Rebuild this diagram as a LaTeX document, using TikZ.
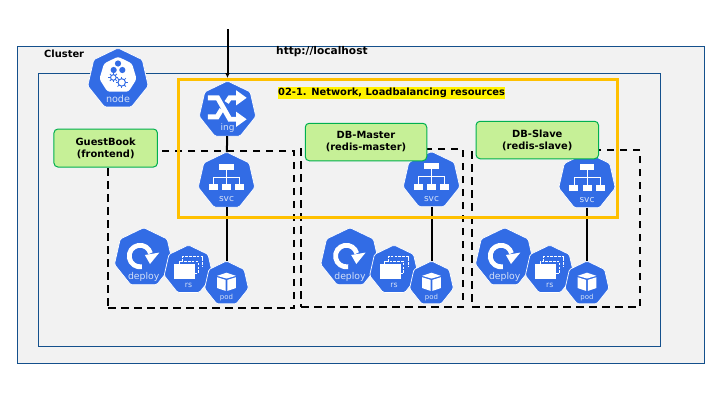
\documentclass[tikz,border=0pt]{standalone}
\usepackage{fontspec}
\usepackage{xcolor}
\usepackage{tikz}
\usetikzlibrary{arrows.meta,positioning,calc,shapes.geometric}
\setmainfont{DejaVu Sans}
\definecolor{bg}{HTML}{F2F2F2}
\definecolor{fr}{HTML}{14508C}
\definecolor{yl}{HTML}{FFC000}
\definecolor{gf}{HTML}{C6F097}
\definecolor{gd}{HTML}{00B050}
\definecolor{kb}{HTML}{326CE5}
\definecolor{kt}{HTML}{D5E1F8}
\tikzset{
  area/.style={draw=fr,line width=1pt,fill=bg,rectangle,inner sep=0pt,outer sep=0pt},
  kube/.style={regular polygon,regular polygon sides=7,fill=kb,draw=white,line width=0.7pt,
    rounded corners=1.5pt,inner sep=0pt,outer sep=0pt},
  kubetext/.style={text=kt,inner sep=0pt},
  group/.style={draw=black,line width=2pt,dash pattern=on 7.5pt off 5.5pt,rectangle,inner sep=0pt,outer sep=0pt},
  tag/.style={draw=gd,line width=1pt,fill=gf,rounded corners=4pt,inner sep=0pt,outer sep=0pt,
    align=center,font=\fontsize{9.9}{12}\selectfont\bfseries},
  wire/.style={draw=black,line width=2pt},
  plain/.style={inner sep=0pt,font=\fontsize{9.9}{12}\selectfont\bfseries},
  netframe/.style={draw=yl,line width=3pt,rectangle,inner sep=0pt,outer sep=0pt},
}
% box from its corners: name, x0, y0, x1, y1, style
\newcommand{\Frame}[6]{\node[#6,minimum width={#4pt-#2pt},minimum height={#5pt-#3pt}] (#1) at ({(#2+#4)/2},{(#3+#5)/2}) {};}
% heptagon with its caption: name, x, y, radius, caption
\newcommand{\Kube}[5]{%
  \pgfmathsetmacro{\kfs}{#4*0.31}
  \node[kube,minimum size={2*#4 pt}] (#1) at (#2,#3) {};
  \node[kubetext,font=\fontsize{\kfs}{\kfs}\selectfont] (#1-text) at (#2,{#3+0.63*#4}) {#5};
}
\newcommand{\KSvc}[4]{\Kube{#1}{#2}{#3}{#4}{svc}
  \begin{scope}[shift={(#1.center)},x=#4pt,y=-#4pt,white]
    \fill (-0.25,-0.59) rectangle (0.25,-0.38);
    \foreach \bx in {-0.45,0,0.45}{\fill ({\bx-0.155},0.11) rectangle ({\bx+0.155},0.32);}
    \draw[line width=0.8pt] (0,-0.38) -- (0,0.11) (-0.45,0.11) -- (-0.45,-0.14) -- (0.45,-0.14) -- (0.45,0.11);
  \end{scope}}
\newcommand{\KIng}[4]{\Kube{#1}{#2}{#3}{#4}{ing}
  \begin{scope}[shift={(#1.center)},x=#4pt,y=-#4pt,white]
    \draw[line width=0.17*#4pt] (-0.68,-0.42) -- (-0.34,-0.42) -- (0.08,0.32) -- (0.38,0.32);
    \draw[line width=0.17*#4pt] (-0.68,0.24) -- (-0.36,0.24) -- (-0.2,-0.02);
    \draw[line width=0.17*#4pt] (-0.03,-0.26) -- (0.08,-0.42) -- (0.38,-0.42);
    \fill (0.3,-0.68) -- (0.66,-0.42) -- (0.3,-0.16) -- cycle;
    \fill (0.3,0.06) -- (0.66,0.32) -- (0.3,0.58) -- cycle;
  \end{scope}}
\newcommand{\KDeploy}[4]{\Kube{#1}{#2}{#3}{#4}{deploy}
  \begin{scope}[shift={(#1.center)},x=#4pt,y=-#4pt,white]
    \draw[line width=0.16*#4pt] (-0.06,0.3) arc[start angle=80,end angle=345,radius=0.36];
    \fill (0.04,-0.09) -- (0.52,-0.17) -- (0.21,0.21) -- cycle;
  \end{scope}}
\newcommand{\KRs}[4]{\Kube{#1}{#2}{#3}{#4}{rs}
  \begin{scope}[shift={(#1.center)},x=#4pt,y=-#4pt,white]
    \draw[line width=1pt,dash pattern=on 2.6pt off 1.2pt] (-0.23,-0.33) -- (-0.23,-0.53) -- (0.57,-0.53) -- (0.57,-0.13);
    \draw[line width=1pt,dash pattern=on 2.6pt off 1.2pt] (-0.38,-0.23) -- (-0.38,-0.33) -- (0.39,-0.33) -- (0.39,0.13) -- (0.26,0.13);
    \fill (-0.58,-0.23) rectangle (0.26,0.36);
  \end{scope}}
\newcommand{\KPod}[4]{\Kube{#1}{#2}{#3}{#4}{pod}
  \begin{scope}[shift={(#1.center)},x=#4pt,y=-#4pt,white]
    \fill (0,-0.48) -- (0.42,-0.34) -- (0,-0.22) -- (-0.42,-0.34) -- cycle;
    \fill (-0.42,-0.28) -- (-0.04,-0.16) -- (-0.04,0.33) -- (-0.42,0.2) -- cycle;
    \fill (0.42,-0.28) -- (0.04,-0.16) -- (0.04,0.33) -- (0.42,0.2) -- cycle;
  \end{scope}}
\newcommand{\KNode}[4]{\Kube{#1}{#2}{#3}{#4}{node}
  \begin{scope}[shift={(#1.center)},x=#4pt,y=-#4pt]
    \fill[white,rounded corners=2.5pt] (0,-0.72) -- (0.45,-0.5) -- (0.6,0) -- (0.34,0.41) -- (-0.34,0.41) -- (-0.6,0) -- (-0.45,-0.5) -- cycle;
    \foreach \cx/\cy in {0/-0.5,-0.14/-0.29,0.14/-0.29}{\fill[kb] (\cx,\cy) circle (0.1);}
    \foreach \cx/\cy/\cr in {-0.15/-0.05/0.09,0.12/0.11/0.12}{
      \draw[kb,line width=1pt] (\cx,\cy) circle (\cr);
      \foreach \ca in {0,45,...,315}{\draw[kb,line width=0.8pt] ($(\cx,\cy)+(\ca:\cr)$) -- ($(\cx,\cy)+(\ca:\cr+0.07)$);}
    }
  \end{scope}}
\begin{document}
\begin{tikzpicture}[x=1pt,y=-1pt]
  \useasboundingbox (0,0) rectangle (720,405);
  \Frame{cluster}{17.5}{46.5}{704.5}{363}{area}
  \Frame{inner}{38.5}{73.5}{660.5}{346}{area}
  \node[plain,anchor=west] (clusterlabel) at (44,54) {Cluster};
  \node[plain,anchor=west,font=\fontsize{10.6}{12}\selectfont\bfseries] (urllabel) at (276,52) {http://localhost};
  \KNode{node}{118}{79}{31}
  \Frame{frontbox}{108}{151}{294}{308}{group}
  \Frame{masterbox}{301}{149}{463}{307}{group}
  \Frame{slavebox}{472}{150}{640}{307}{group}
  % icons of the three groups
  \KSvc{svcf}{226.5}{181}{29}
  \KSvc{svcm}{431.5}{180.5}{29}
  \KSvc{svcs}{587}{181.5}{29}
  \KDeploy{deployf}{143.7}{257.7}{30}
  \KDeploy{deploym}{350}{257.7}{30}
  \KDeploy{deploys}{504.7}{257.7}{30}
  \KRs{rsf}{188.5}{270}{25}
  \KRs{rsm}{394}{270}{25}
  \KRs{rss}{549.7}{270}{25}
  \KPod{podf}{226.5}{283.5}{22.5}
  \KPod{podm}{431.5}{283.5}{22.5}
  \KPod{pods}{587}{283.5}{22.5}
  \KIng{ing}{227.5}{110}{29}
  \draw[wire] (ing) -- (svcf);
  \draw[wire] (svcf) -- (podf);
  \draw[wire] (svcm) -- (podm);
  \draw[wire] (svcs) -- (pods);
  \coordinate (client) at (227.5,29);
  \draw[wire,shorten >=3pt,-{Latex[length=5pt,width=5pt]}] (client) -- (ing);
  \node[tag,minimum width=103.5pt,minimum height=38pt] (guestbook) at (105.7,148) {GuestBook\\(frontend)};
  \node[tag,minimum width=121.5pt,minimum height=37.5pt] (dbmaster) at (366,142) {DB-Master\\(redis-master)};
  \node[tag,minimum width=122.5pt,minimum height=37.5pt] (dbslave) at (537.3,140) {DB-Slave\\(redis-slave)};
  \Frame{netbox}{178}{79}{617}{217}{netframe}
  \node[plain,fill=yellow,anchor=west,minimum height=12pt] (netlabel) at (278,93) {02-1. Network, Loadbalancing resources};
\end{tikzpicture}
\end{document}
